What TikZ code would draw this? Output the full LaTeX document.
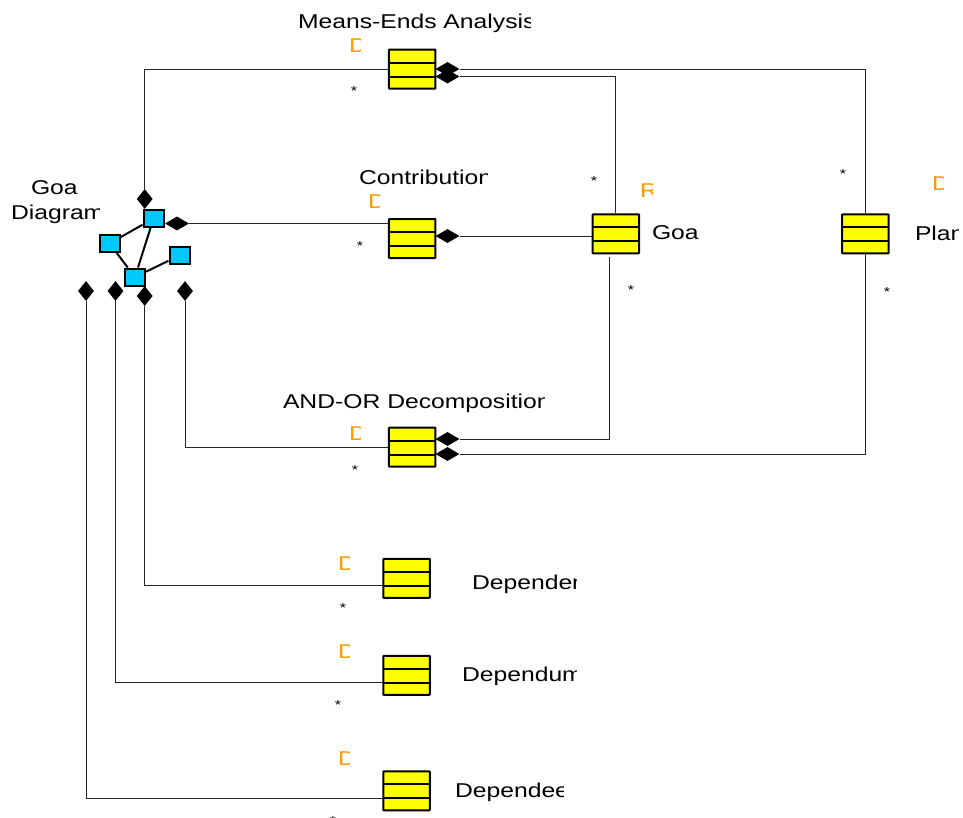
\documentclass[tikz,border=0pt]{standalone}
\usepackage{fontspec}
\setmainfont[FakeStretch=1.235]{Liberation Sans}
\usetikzlibrary{shapes.geometric}
\definecolor{classyellow}{HTML}{FFFF00}
\definecolor{iconblue}{HTML}{00C8FF}
\definecolor{markorange}{HTML}{FF9900}
\tikzset{
  classbox/.style={draw=black,line width=2pt,fill=classyellow,rounded corners=0.6pt,minimum width=46.5pt,minimum height=39pt,inner sep=0pt,
    path picture={\draw[line width=2pt] ([yshift=-13pt]path picture bounding box.north west) -- ([yshift=-13pt]path picture bounding box.north east);
      \draw[line width=2pt] ([yshift=-27pt]path picture bounding box.north west) -- ([yshift=-27pt]path picture bounding box.north east);}},
  iconbox/.style={draw=black,line width=2pt,fill=iconblue,minimum width=20pt,minimum height=17pt,inner sep=0pt},
  iconlink/.style={draw=black,line width=2pt},
  comph/.style={diamond,fill=black,draw=none,inner sep=0pt,minimum width=24pt,minimum height=14pt,shape aspect=1.71},
  compv/.style={diamond,fill=black,draw=none,inner sep=0pt,minimum width=16pt,minimum height=20pt,shape aspect=0.8},
  conn/.style={draw=black!85,line width=1pt},
  lbl/.style={anchor=base west,inner sep=0pt,outer sep=0pt,font=\fontsize{20}{22}\selectfont,text=black},
  orangemark/.style={anchor=base west,inner sep=0pt,outer sep=0pt,font=\fontsize{20}{22}\selectfont,text=markorange},
  multi/.style={anchor=base,inner sep=0pt,outer sep=0pt,font=\fontsize{13}{13}\selectfont,text=black},
}
\newcommand{\cliptxt}[6]{\begin{scope}\clip (#3,#4-30) rectangle (#5,#4+12);\node[#1] (#2) at (#3,#4) {#6};\end{scope}}
\begin{document}
\begin{tikzpicture}[x=1pt,y=-1pt]
\useasboundingbox (0,0) rectangle (963,817);
\clip (0,0) rectangle (963,817);
% classes
\node[classbox] (means) at (412.2,69) {};
\node[classbox] (contrib) at (412.2,238.5) {};
\node[classbox] (goal) at (615.8,233.8) {};
\node[classbox] (plan) at (865.4,233.8) {};
\node[classbox] (andor) at (412.2,447.2) {};
\node[classbox] (depender) at (406.5,578.3) {};
\node[classbox] (dependum) at (406.5,675.3) {};
\node[classbox] (dependee) at (406.5,790.9) {};
% diamonds
\node[compv] (dTop) at (144.7,199) {};
\node[comph] (dRight) at (177,223.5) {};
\node[compv] (dA) at (86,291) {};
\node[compv] (dB) at (115.5,291) {};
\node[compv] (dC) at (144.7,296) {};
\node[compv] (dD) at (185,291) {};
\node[comph] (dMeansU) at (447.5,69) {};
\node[comph] (dMeansL) at (447.5,76.5) {};
\node[comph] (dContrib) at (447.5,236) {};
\node[comph] (dAndU) at (447.5,439) {};
\node[comph] (dAndL) at (447.5,454) {};
% free ends
\coordinate (goalOut) at (609.5,257);
\coordinate (dependerIn) at (382.5,585);
\coordinate (dependumIn) at (382.5,682);
\coordinate (dependeeIn) at (382.5,798);
% connectors
\draw[conn] (means.west) -| (dTop.north);
\draw[conn] (dRight.east) -- (dRight.east -| contrib.west);
\draw[conn] (dMeansU.east) -| (plan.north);
\draw[conn] (dMeansL.east) -| (goal.north);
\draw[conn] (dContrib.east) -- (dContrib.east -| goal.west);
\draw[conn] (dAndU.east) -| (goalOut);
\draw[conn] (dAndL.east) -| (plan.south);
\draw[conn] (andor.west) -| (dD.south);
\draw[conn] (dependerIn) -| (dC.south);
\draw[conn] (dependumIn) -| (dB.south);
\draw[conn] (dependeeIn) -| (dA.south);
% icon
\node[iconbox] (iTop) at (153.5,218.5) {};
\node[iconbox] (iLeft) at (109.5,243.5) {};
\node[iconbox] (iRight) at (179.5,255.5) {};
\node[iconbox] (iBottom) at (135,277) {};
\draw[iconlink] (iLeft) -- (iTop);
\draw[iconlink] (iLeft) -- (iBottom);
\draw[iconlink] (iTop) -- (iBottom);
\draw[iconlink] (iRight) -- (iBottom);
% labels
\cliptxt{lbl}{lMeans}{298}{28}{530.5}{Means-Ends Analysis}
\cliptxt{lbl}{lContrib}{359}{184}{487.5}{Contribution}
\cliptxt{lbl}{lAnd}{283}{408}{544.5}{AND-OR Decomposition}
\cliptxt{lbl}{lGoa}{31}{194}{80}{Goa}
\cliptxt{lbl}{lDiagram}{11}{219}{99.5}{Diagram}
\cliptxt{lbl}{lGoal}{652}{239}{700}{Goa}
\cliptxt{lbl}{lPlan}{915}{240}{958}{Plan}
\cliptxt{lbl}{lDepender}{472}{589}{576.5}{Dependen}
\cliptxt{lbl}{lDependum}{462}{681}{576.5}{Dependum}
\cliptxt{lbl}{lDependee}{455}{797}{563.5}{Dependee}
% orange marks
\cliptxt{orangemark}{mMeans}{349}{52}{360.5}{D}
\cliptxt{orangemark}{mContrib}{368}{208}{379.5}{D}
\cliptxt{orangemark}{mAnd}{349}{440}{360.5}{D}
\cliptxt{orangemark}{mDepender}{338}{570}{349.5}{D}
\cliptxt{orangemark}{mDependum}{338}{658}{349.5}{D}
\cliptxt{orangemark}{mDependee}{338}{765}{349.5}{D}
\cliptxt{orangemark}{mPlan}{932}{190}{943.5}{D}
\cliptxt{orangemark}{mGoal}{640}{197}{652.5}{R}
% multiplicities
\node[multi] (sMeans) at (354,95) {*};
\node[multi] (sContrib) at (360,250) {*};
\node[multi] (sAnd) at (355,474) {*};
\node[multi] (sGoalT) at (594,185) {*};
\node[multi] (sPlanT) at (843,178) {*};
\node[multi] (sGoalB) at (631,294) {*};
\node[multi] (sPlanB) at (887,296) {*};
\node[multi] (sDepender) at (343,612) {*};
\node[multi] (sDependum) at (338,709) {*};
\node[multi] (sDependee) at (333,825.5) {*};
\end{tikzpicture}
\end{document}
